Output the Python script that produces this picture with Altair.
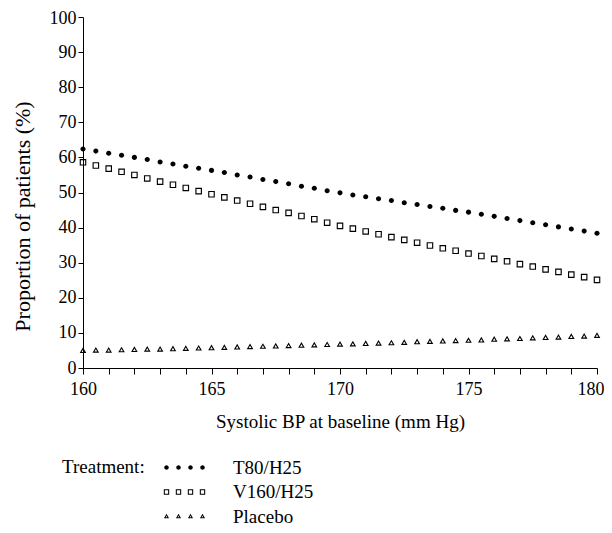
import altair as alt
import pandas as pd

treatments = ["T80/H25", "V160/H25", "Placebo"]

bp = [160.0, 160.5, 161.0, 161.5, 162.0, 162.5, 163.0, 163.5, 164.0, 164.5,
      165.0, 165.5, 166.0, 166.5, 167.0, 167.5, 168.0, 168.5, 169.0, 169.5,
      170.0, 170.5, 171.0, 171.5, 172.0, 172.5, 173.0, 173.5, 174.0, 174.5,
      175.0, 175.5, 176.0, 176.5, 177.0, 177.5, 178.0, 178.5, 179.0, 179.5,
      180.0]

t80 = [62.4, 61.8, 61.2, 60.6, 60.0, 59.4, 58.7, 58.1, 57.5, 56.9,
       56.3, 55.7, 55.0, 54.4, 53.7, 53.1, 52.5, 51.8, 51.2, 50.5,
       49.9, 49.3, 48.8, 48.2, 47.7, 47.1, 46.6, 46.0, 45.5, 44.9,
       44.4, 43.8, 43.2, 42.6, 42.0, 41.4, 40.8, 40.2, 39.6, 39.0,
       38.4]

v160 = [58.6, 57.7, 56.8, 55.9, 55.0, 54.0, 53.1, 52.2, 51.3, 50.4,
        49.5, 48.6, 47.7, 46.8, 45.9, 45.0, 44.2, 43.3, 42.4, 41.4,
        40.5, 39.7, 38.9, 38.1, 37.3, 36.5, 35.7, 34.9, 34.1, 33.4,
        32.6, 31.9, 31.1, 30.4, 29.6, 28.9, 28.1, 27.4, 26.6, 25.9,
        25.1]

placebo = [4.9, 5.0, 5.0, 5.1, 5.2, 5.3, 5.3, 5.4, 5.5, 5.6,
           5.7, 5.8, 5.9, 6.0, 6.1, 6.2, 6.3, 6.4, 6.5, 6.6,
           6.7, 6.8, 6.9, 7.0, 7.1, 7.2, 7.4, 7.5, 7.6, 7.7,
           7.8, 7.9, 8.1, 8.2, 8.3, 8.5, 8.6, 8.7, 8.9, 9.0,
           9.2]

x_ticks = [160, 161, 162, 163, 164, 165, 166, 167, 168, 169, 170,
           171, 172, 173, 174, 175, 176, 177, 178, 179, 180]
y_ticks = [0, 10, 20, 30, 40, 50, 60, 70, 80, 90, 100]

rows = []
for name, vals in zip(treatments, [t80, v160, placebo]):
    for x, v in zip(bp, vals):
        rows.append({"bp": x, "pct": v, "treatment": name})
df = pd.DataFrame(rows)

FONT = "Liberation Serif, Times New Roman, DejaVu Serif, serif"


def f(v):
    return f"{v:.3f}"


# marker glyphs (filled disk, square ring, triangle ring)
def disk(cx, r):
    return (f"M {f(cx - r)} 0 A {f(r)} {f(r)} 0 1 0 {f(cx + r)} 0 "
            f"A {f(r)} {f(r)} 0 1 0 {f(cx - r)} 0 Z ")


def sq_ring(cx, a, b):
    return (f"M {f(cx - a)} {f(-a)} L {f(cx + a)} {f(-a)} L {f(cx + a)} {f(a)} L {f(cx - a)} {f(a)} Z "
            f"M {f(cx - b)} {f(-b)} L {f(cx - b)} {f(b)} L {f(cx + b)} {f(b)} L {f(cx + b)} {f(-b)} Z ")


def tri_ring(cx, top, w, base, itop, iw, ibase):
    return (f"M {f(cx)} {f(top)} L {f(cx + w)} {f(base)} L {f(cx - w)} {f(base)} Z "
            f"M {f(cx)} {f(itop)} L {f(cx - iw)} {f(ibase)} L {f(cx + iw)} {f(ibase)} Z ")


main_shapes = [
    disk(0, 0.85),
    sq_ring(0, 1.1, 0.72),
    tri_ring(0, -1.15, 1.1, 0.75, -0.41, 0.46, 0.38),
]

centers = [-6.0, -2.0, 2.0, 6.0]
legend_shapes = [
    "".join(disk(c, 0.75) for c in centers),
    "".join(sq_ring(c, 0.9, 0.55) for c in centers),
    "".join(tri_ring(c, -0.9, 0.85, 0.6, -0.23, 0.28, 0.27) for c in centers),
]

x_enc = alt.X(
    "bp:Q",
    title="Systolic BP at baseline (mm Hg)",
    scale=alt.Scale(domain=[160, 180], nice=False, zero=False),
    axis=alt.Axis(values=x_ticks, labelExpr="datum.value % 5 == 0 ? datum.label : ''",
                  tickSize=6, labelPadding=6, titlePadding=14, grid=False,
                  labelOverlap=False, labelFlush=False,
                  labelAlign={"condition": {"test": "datum.value == 180", "value": "right"},
                              "value": "center"},
                  labelOffset={"condition": {"test": "datum.value == 180", "value": 7},
                               "value": 0}),
)
y_enc = alt.Y(
    "pct:Q",
    title="Proportion of patients (%)",
    scale=alt.Scale(domain=[0, 100], nice=False),
    axis=alt.Axis(values=y_ticks, tickSize=5, labelPadding=2, titlePadding=15, grid=False,
                  labelOverlap=False, labelFlush=False, titleFontSize=22, titleY=199,
                  labelOffset={"condition": {"test": "datum.value == 100", "value": 1},
                               "value": 0}),
)

pts = alt.Chart(df).mark_point(filled=True, color="black", opacity=1, size=36).encode(
    x=x_enc,
    y=y_enc,
    shape=alt.Shape("treatment:N",
                    scale=alt.Scale(domain=treatments, range=main_shapes),
                    legend=None),
)

leg = alt.Chart(df).transform_filter("false").mark_point(
    filled=True, color="black", opacity=1, size=36
).encode(
    shape=alt.Shape(
        "treatment:N",
        scale=alt.Scale(domain=treatments, range=legend_shapes),
        legend=alt.Legend(
            title="Treatment:",
            orient="none",
            legendX=-21,
            legendY=441,
            titleOrient="left",
            titleAnchor="start",
            titlePadding=10,
            titleFont=FONT,
            titleFontSize=19,
            titleFontWeight="normal",
            titleColor="black",
            labelFont=FONT,
            labelFontSize=19,
            labelColor="black",
            symbolSize=36,
            symbolOffset=20,
            labelOffset=39,
            rowPadding=4.5,
            symbolFillColor="black",
            symbolStrokeWidth=0,
        ),
    ),
)

chart = alt.layer(pts, leg).resolve_scale(shape="independent").properties(
    width=514, height=351,
    autosize=alt.AutoSizeParams(type="none"),
    padding={"left": 75, "top": 9, "right": 7, "bottom": 158},
).configure_view(stroke=None).configure_axis(
    domainColor="black", tickColor="black", labelColor="black", titleColor="black",
    labelFont=FONT, titleFont=FONT, labelFontSize=18, titleFontSize=19,
    titleFontWeight="normal", domainWidth=1, tickWidth=1, labelOverlap=False,
)

chart.save("out.html", embed_options={"renderer": "svg", "actions": False})
